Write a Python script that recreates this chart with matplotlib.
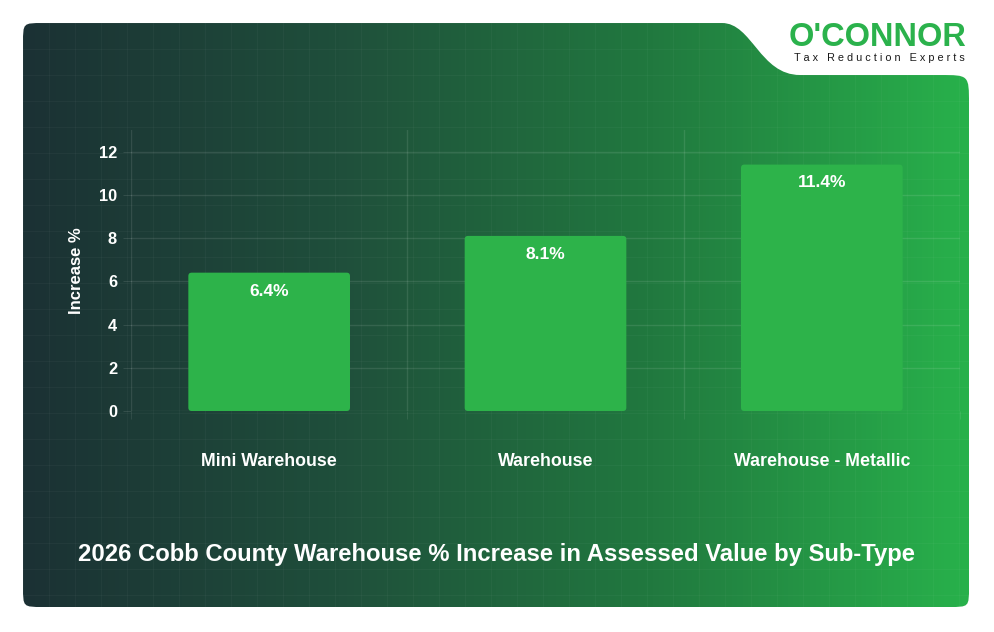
import matplotlib
matplotlib.use('Agg')
import matplotlib.pyplot as plt
import numpy as np
from matplotlib.path import Path
from matplotlib.patches import PathPatch, FancyBboxPatch
from matplotlib.colors import LinearSegmentedColormap

categories = ['Mini Warehouse', 'Warehouse', 'Warehouse - Metallic']
increase = [6.4, 8.1, 11.4]
y_ticks = [0, 2, 4, 6, 8, 10, 12]
title = '2026 Cobb County Warehouse % Increase in Assessed Value by Sub-Type'

W, H = 994, 632
plt.rcParams['font.family'] = ['Liberation Sans', 'DejaVu Sans']
fig = plt.figure(figsize=(W / 100, H / 100), dpi=100)
fig.patch.set_facecolor('white')

# background card (pixel coords, y down)
bg = fig.add_axes([0, 0, 1, 1])
bg.set_xlim(0, W)
bg.set_ylim(H, 0)
bg.axis('off')

L, T, R, B, r = 23, 23, 969, 607, 20
verts = [(L + r, T), (722, T),
         (752, T), (760, 75), (800, 75),
         (940, 75),
         (969, 75), (969, 75), (R, 104),
         (R, B - r),
         (R, B), (R, B), (R - r, B),
         (L + r, B),
         (L, B), (L, B), (L, B - r),
         (L, T + r),
         (L, T), (L, T), (L + r, T),
         (L + r, T)]
codes = [Path.MOVETO, Path.LINETO,
         Path.CURVE4, Path.CURVE4, Path.CURVE4,
         Path.LINETO,
         Path.CURVE4, Path.CURVE4, Path.CURVE4,
         Path.LINETO,
         Path.CURVE4, Path.CURVE4, Path.CURVE4,
         Path.LINETO,
         Path.CURVE4, Path.CURVE4, Path.CURVE4,
         Path.LINETO,
         Path.CURVE4, Path.CURVE4, Path.CURVE4,
         Path.CLOSEPOLY]
card = PathPatch(Path(verts, codes), facecolor='none', edgecolor='none')
bg.add_patch(card)

cmap = LinearSegmentedColormap.from_list('card', ['#1b3134', '#1f4f3b', '#21793f', '#28b14b'])
grad = np.linspace(0, 1, 512).reshape(1, -1)
im = bg.imshow(grad, cmap=cmap, extent=[L, R, B, T], aspect='auto', interpolation='bicubic')
im.set_clip_path(card)

# faint texture grid
for gx in np.arange(L, R, 26):
    ln, = bg.plot([gx, gx], [T, B], color='white', alpha=0.03, lw=0.8)
    ln.set_clip_path(card)
for gy in np.arange(T, B, 26):
    ln, = bg.plot([L, R], [gy, gy], color='white', alpha=0.03, lw=0.8)
    ln.set_clip_path(card)

# logo
bg.text(878, 37, "O'CONNOR", color='#2bb24c', fontsize=23.5, fontweight='heavy',
        ha='center', va='center')
bg.text(879, 58, 'T a x   R e d u c t i o n   E x p e r t s', color='#1a1a1a',
        fontsize=7.8, ha='center', va='center')

# title
bg.text(497, 555, title, color='white', fontsize=17.2, fontweight='bold',
        ha='center', va='center')

# chart
ax = fig.add_axes([131 / W, 1 - 411 / H, (960 - 131) / W, (411 - 130) / H])
ax.patch.set_alpha(0)
x = np.arange(len(categories))
ax.set_xlim(-0.5, len(categories) - 0.5)
ax.set_ylim(0, 13)
bar_w = 0.585
# data units per pixel: x 3/829, y 13/281
asp = (13 / 281) / (3 / 829)
for xi, v in zip(x, increase):
    p = FancyBboxPatch((xi - bar_w / 2, 0), bar_w, v,
                       boxstyle='round,pad=0,rounding_size=0.012',
                       mutation_aspect=asp,
                       facecolor='#2db34a', edgecolor='none', zorder=3)
    ax.add_patch(p)
    ax.text(xi, v - 0.85, f'{v}%', color='white', fontsize=12.5, fontweight='bold',
            ha='center', va='center', zorder=4)

ax.set_yticks(y_ticks)
ax.set_yticklabels([str(t) for t in y_ticks])
ax.set_xticks(x)
ax.set_xticklabels(categories)
ax.set_xticks(np.arange(-0.5, len(categories)), minor=True)
ax.grid(axis='y', color='white', alpha=0.1, lw=1, zorder=0)
ax.grid(axis='x', which='minor', color='white', alpha=0.1, lw=1, zorder=0)
ax.tick_params(axis='x', which='major', length=0, pad=30, labelsize=12.8, labelcolor='white')
ax.tick_params(axis='x', which='minor', length=6, color=(1, 1, 1, 0.1))
ax.tick_params(axis='y', length=6, color=(1, 1, 1, 0.1), pad=4, labelsize=11.8, labelcolor='white')
for lab in ax.get_xticklabels() + ax.get_yticklabels():
    lab.set_fontweight('bold')
for s in ax.spines.values():
    s.set_visible(False)
ax.set_ylabel('Increase %', color='white', fontsize=12, fontweight='bold', labelpad=11)

fig.savefig('out.png', dpi=100, facecolor='white')
